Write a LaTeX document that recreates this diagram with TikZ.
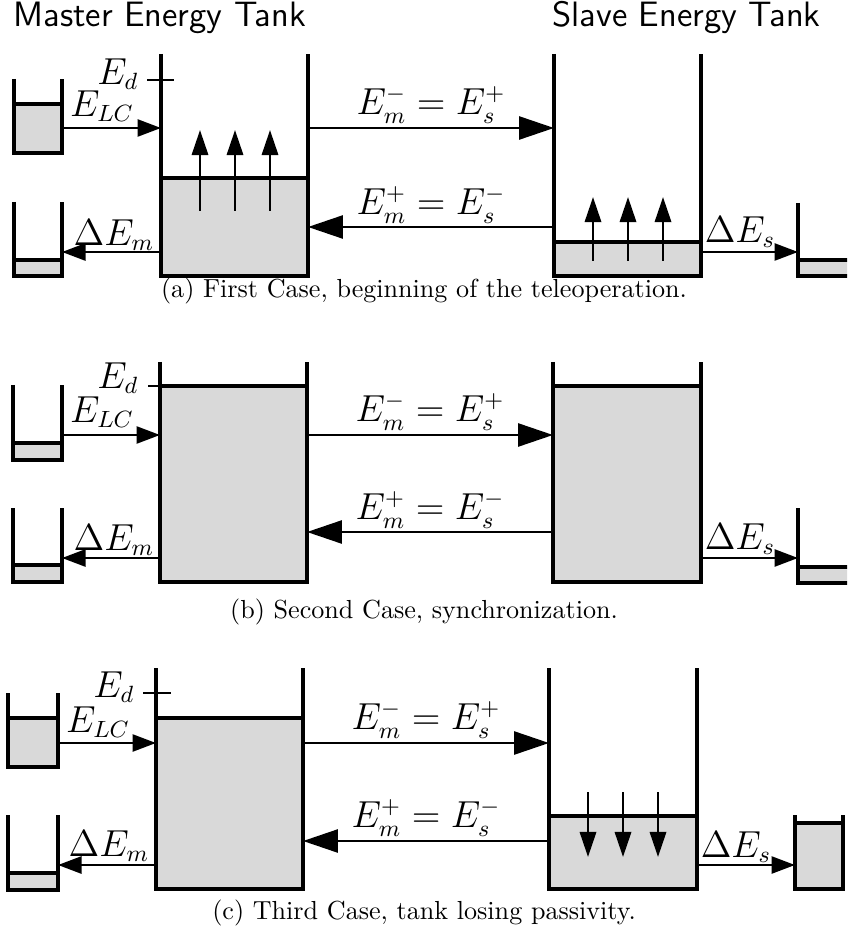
\documentclass[tikz,border=0pt]{standalone}
\usetikzlibrary{arrows.meta}
\begin{document}
\begin{tikzpicture}[
	x=0.383pt, y=-0.383pt,
	wall/.style={line width=1.3pt},
	fluid/.style={fill=black!15},
	surf/.style={line width=1.3pt},
	tick/.style={line width=1.05pt},
	flow/.style={line width=1.05pt, -{Triangle[length=13.4pt,width=8.8pt]}},
	small/.style={line width=1.05pt, -{Triangle[length=9pt,width=6.5pt]}},
	level/.style={line width=1.05pt, -{Triangle[length=9.6pt,width=6.2pt]}},
	lbl/.style={font=\fontsize{13.5}{16}\selectfont, inner sep=0pt},
	ttl/.style={font=\fontsize{13.5}{16}\sffamily, inner sep=0pt, anchor=base west},
	capt/.style={font=\normalsize, inner sep=0pt}
	]
	\useasboundingbox (0,0) rectangle (847,942);
	\clip (0,0) rectangle (847,942);
	% titles
	\node[ttl] (tmaster) at (13,27) {Master Energy Tank};
	\node[ttl] (tslave) at (552,27) {Slave Energy Tank};
	% (a) first case
	\begin{scope}
		\fill[fluid] (14,104) rectangle (62,153); \draw[surf] (14,104) -- (62,104);
		\draw[wall] (14,79) -- (14,153) -- (62,153) -- (62,79);
		\fill[fluid] (14,260) rectangle (62,276); \draw[surf] (14,260) -- (62,260);
		\draw[wall] (14,202) -- (14,276) -- (62,276) -- (62,202);
		\fill[fluid] (161,178) rectangle (308,276); \draw[surf] (161,178) -- (308,178);
		\draw[wall] (161,54) -- (161,276) -- (308,276) -- (308,54);
		\fill[fluid] (554,242) rectangle (701,276); \draw[surf] (554,242) -- (701,242);
		\draw[wall] (554,54) -- (554,276) -- (701,276) -- (701,54);
		\fill[fluid] (798,260) rectangle (850,276); \draw[surf] (798,260) -- (850,260);
		\draw[wall] (798,203) -- (798,276) -- (850,276) -- (850,203);
		\draw[tick] (147,80) -- (174,80);
		\foreach \x in {200,235,270} \draw[level] (\x,211) -- (\x,130);
		\foreach \x in {593,628,663} \draw[level] (\x,261) -- (\x,197);
		\coordinate (a-lc) at (62,128); \coordinate (a-mi) at (161,128);
		\coordinate (a-mo) at (161,252); \coordinate (a-lo) at (62,252);
		\coordinate (a-mr1) at (308,128); \coordinate (a-sl1) at (554,128);
		\coordinate (a-sl2) at (554,227); \coordinate (a-mr2) at (308,227);
		\coordinate (a-sr) at (701,252); \coordinate (a-rt) at (798,252);
		\draw[small] (a-lc) -- (a-mi);
		\draw[small] (a-mo) -- (a-lo);
		\draw[flow] (a-mr1) -- (a-sl1);
		\draw[flow] (a-sl2) -- (a-mr2);
		\draw[small] (a-sr) -- (a-rt);
		\node[lbl, anchor=east] (a-ed) at (139,74) {$E_d$};
		\node[lbl] (a-elc) at (102,106) {$E_{LC}$};
		\node[lbl] (a-dem) at (114,235) {$\Delta E_m$};
		\node[lbl] (a-top) at (431,105) {$E_m^- = E_s^+$};
		\node[lbl] (a-bot) at (431,205) {$E_m^+ = E_s^-$};
		\node[lbl] (a-des) at (740,232) {$\Delta E_s$};
		\node[capt] (a-cap) at (424,291) {(a) First Case, beginning of the teleoperation.};
	\end{scope}
	% (b) second case
	\begin{scope}
		\fill[fluid] (13,443) rectangle (62,460); \draw[surf] (13,443) -- (62,443);
		\draw[wall] (13,385) -- (13,460) -- (62,460) -- (62,385);
		\fill[fluid] (13,565) rectangle (62,582); \draw[surf] (13,565) -- (62,565);
		\draw[wall] (13,508) -- (13,582) -- (62,582) -- (62,508);
		\draw[tick] (148,386) -- (160,386);
		\fill[fluid] (160,386) rectangle (307,582); \draw[surf] (160,386) -- (307,386);
		\draw[wall] (160,362) -- (160,582) -- (307,582) -- (307,362);
		\fill[fluid] (553,386) rectangle (701,582); \draw[surf] (553,386) -- (701,386);
		\draw[wall] (553,362) -- (553,582) -- (701,582) -- (701,362);
		\fill[fluid] (798,567) rectangle (850,583); \draw[surf] (798,567) -- (850,567);
		\draw[wall] (798,508) -- (798,583) -- (850,583) -- (850,508);
		\coordinate (b-lc) at (62,435); \coordinate (b-mi) at (160,435);
		\coordinate (b-mo) at (160,558); \coordinate (b-lo) at (62,558);
		\coordinate (b-mr1) at (307,435); \coordinate (b-sl1) at (553,435);
		\coordinate (b-sl2) at (553,532); \coordinate (b-mr2) at (307,532);
		\coordinate (b-sr) at (701,558); \coordinate (b-rt) at (798,558);
		\draw[small] (b-lc) -- (b-mi);
		\draw[small] (b-mo) -- (b-lo);
		\draw[flow] (b-mr1) -- (b-sl1);
		\draw[flow] (b-sl2) -- (b-mr2);
		\draw[small] (b-sr) -- (b-rt);
		\node[lbl, anchor=east] (b-ed) at (139,378) {$E_d$};
		\node[lbl] (b-elc) at (102,412) {$E_{LC}$};
		\node[lbl] (b-dem) at (114,540) {$\Delta E_m$};
		\node[lbl] (b-top) at (430,412) {$E_m^- = E_s^+$};
		\node[lbl] (b-bot) at (430,510) {$E_m^+ = E_s^-$};
		\node[lbl] (b-des) at (740,539) {$\Delta E_s$};
		\node[capt] (b-cap) at (424,612) {(b) Second Case, synchronization.};
	\end{scope}
	% (c) third case
	\begin{scope}
		\fill[fluid] (8,718) rectangle (58,767); \draw[surf] (8,718) -- (58,718);
		\draw[wall] (8,693) -- (8,767) -- (58,767) -- (58,693);
		\fill[fluid] (8,873) rectangle (58,890); \draw[surf] (8,873) -- (58,873);
		\draw[wall] (8,815) -- (8,890) -- (58,890) -- (58,815);
		\fill[fluid] (156,718) rectangle (303,889); \draw[surf] (156,718) -- (303,718);
		\draw[wall] (156,668) -- (156,889) -- (303,889) -- (303,668);
		\fill[fluid] (549,816) rectangle (697,889); \draw[surf] (549,816) -- (697,816);
		\draw[wall] (549,668) -- (549,889) -- (697,889) -- (697,668);
		\fill[fluid] (795,823) rectangle (843,889); \draw[surf] (795,823) -- (843,823);
		\draw[wall] (795,815) -- (795,889) -- (843,889) -- (843,815);
		\draw[tick] (143,693) -- (171,693);
		\foreach \x in {588,623,658} \draw[level] (\x,792) -- (\x,857);
		\coordinate (c-lc) at (58,743); \coordinate (c-mi) at (156,743);
		\coordinate (c-mo) at (156,865); \coordinate (c-lo) at (58,865);
		\coordinate (c-mr1) at (303,743); \coordinate (c-sl1) at (549,743);
		\coordinate (c-sl2) at (549,841); \coordinate (c-mr2) at (303,841);
		\coordinate (c-sr) at (697,865); \coordinate (c-rt) at (795,865);
		\draw[small] (c-lc) -- (c-mi);
		\draw[small] (c-mo) -- (c-lo);
		\draw[flow] (c-mr1) -- (c-sl1);
		\draw[flow] (c-sl2) -- (c-mr2);
		\draw[small] (c-sr) -- (c-rt);
		\node[lbl, anchor=east] (c-ed) at (135,687) {$E_d$};
		\node[lbl] (c-elc) at (98,722) {$E_{LC}$};
		\node[lbl] (c-dem) at (109,846) {$\Delta E_m$};
		\node[lbl] (c-top) at (426,720) {$E_m^- = E_s^+$};
		\node[lbl] (c-bot) at (426,818) {$E_m^+ = E_s^-$};
		\node[lbl] (c-des) at (736,847) {$\Delta E_s$};
		\node[capt] (c-cap) at (424,913) {(c) Third Case, tank losing passivity.};
	\end{scope}
\end{tikzpicture}
\end{document}
